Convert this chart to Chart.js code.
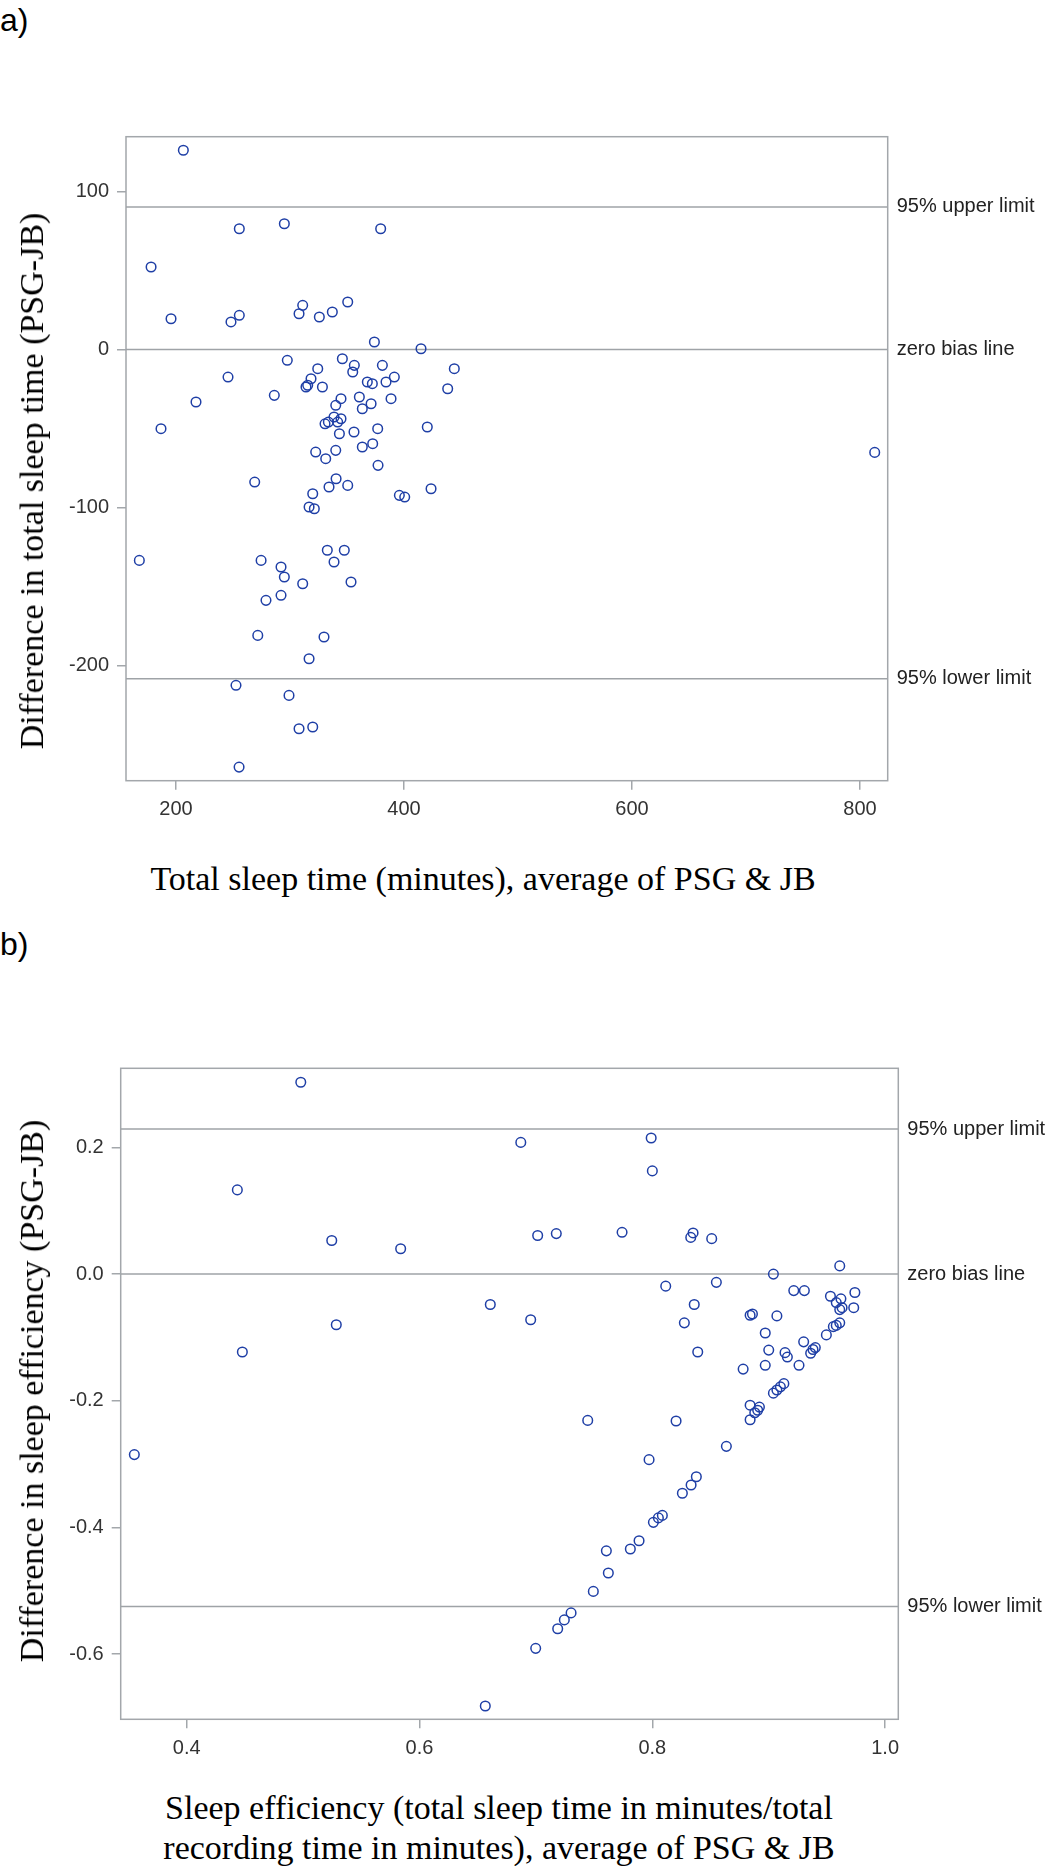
<!DOCTYPE html>
<html>
<head>
<meta charset="utf-8">
<script src="https://cdn.jsdelivr.net/npm/chart.js@4.4.1/dist/chart.umd.min.js"></script>
<style>
body { margin: 0; background: #fff; }
#page { position: relative; width: 1053px; height: 1866px; overflow: hidden; background: #fff; }
.panel { position: absolute; font-family: 'Liberation Sans', Arial, sans-serif; font-size: 32px; line-height: 1; color: #000; }
.title { position: absolute; font-family: 'Liberation Serif', 'Times New Roman', serif; font-size: 34px; line-height: 1; color: #000; white-space: nowrap; }
.ytitle { transform: translate(-50%, -50%) rotate(-90deg); }
.cbox { position: absolute; left: 0; width: 1053px; }
</style>
</head>
<body>
<div id="page">
  <div class="panel" style="left:0px; top:4px;">a)</div>
  <div class="cbox" style="top:100px; height:760px;"><canvas id="chartA" width="1053" height="760"></canvas></div>
  <div class="title ytitle" style="left:32px; top:481px;">Difference in total sleep time (PSG-JB)</div>
  <div class="title" style="left:483px; top:862px; transform:translateX(-50%);">Total sleep time (minutes), average of PSG &amp; JB</div>

  <div class="panel" style="left:0px; top:928px;">b)</div>
  <div class="cbox" style="top:1000px; height:780px;"><canvas id="chartB" width="1053" height="780"></canvas></div>
  <div class="title ytitle" style="left:32px; top:1391px;">Difference in sleep efficiency (PSG-JB)</div>
  <div class="title" style="left:499px; top:1788px; transform:translateX(-50%); line-height:39.5px; text-align:center;">Sleep efficiency (total sleep time in minutes/total<br>recording time in minutes), average of PSG &amp; JB</div>
</div>

<script>
// a) total sleep time: average of PSG & JB (x) vs difference PSG-JB (y)
var tstMean = [206.4, 255.5, 295.0, 379.5, 178.1, 195.6, 248.2, 255.5, 311.1, 307.9,
    325.7, 337.1, 350.6, 374.0, 414.9, 297.6, 345.9, 356.4, 355.0, 381.0,
    444.1, 324.3, 245.6, 318.4, 391.5, 367.8, 372.2, 384.2, 314.0, 315.5,
    328.4, 438.3, 286.2, 217.5, 344.7, 360.8, 388.6, 340.1, 371.1, 363.4,
    186.8, 420.4, 376.9, 330.7, 333.6, 338.6, 344.7, 341.8, 343.3, 356.1,
    322.5, 331.3, 340.1, 363.4, 372.5, 377.2, 269.0, 340.4, 334.2, 350.6,
    319.9, 316.7, 321.3, 395.9, 400.6, 423.7, 167.8, 274.6, 332.7, 347.6,
    338.6, 292.1, 295.0, 311.1, 353.5, 278.9, 292.1, 271.7, 329.8, 316.7,
    252.6, 299.1, 307.9, 319.9, 255.3, 812.9];
var tstDiff = [126.1, 76.4, 79.6, 76.4, 52.2, 19.4, 17.4, 21.6, 27.9, 22.6,
    20.5, 23.7, 30.0, 4.7, 0.4, -6.9, -5.9, -10.1, -14.3, -10.1,
    -12.2, -12.2, -17.5, -18.6, -17.5, -20.6, -21.7, -20.6, -23.8, -22.7,
    -23.8, -24.9, -29.1, -33.3, -31.2, -30.1, -31.2, -35.4, -34.4, -37.6,
    -50.2, -49.1, -50.2, -47.1, -46.0, -42.8, -43.9, -46.0, -53.4, -52.3,
    -65.0, -69.2, -63.9, -61.8, -59.7, -73.4, -84.0, -81.9, -87.1, -86.1,
    -91.4, -99.8, -100.9, -92.4, -93.5, -88.2, -133.6, -133.6, -127.2, -127.2,
    -134.6, -137.8, -144.1, -148.4, -147.3, -158.9, -155.7, -181.1, -182.1, -195.9,
    -212.7, -219.1, -240.2, -239.1, -264.5, -65.2];
var tstLimits = [-208.5, 0, 90.2];
var tstTicksX = [200, 400, 600, 800];
var tstTicksY = [-200, -100, 0, 100];

// b) sleep efficiency
var seMean = [0.498, 0.4435, 0.5246, 0.5838, 0.6608, 0.5285, 0.4478, 0.355,
    0.687, 0.799, 0.800, 0.7015, 0.7175, 0.774, 0.835, 0.833, 0.851, 0.961,
    0.904, 0.8115, 0.855, 0.6955, 0.836, 0.8275, 0.9215, 0.9306, 0.974, 0.953,
    0.962, 0.958, 0.961, 0.963, 0.973, 0.884, 0.886, 0.907, 0.9495, 0.9555,
    0.958, 0.961, 0.897, 0.930, 0.900, 0.914, 0.916, 0.936, 0.938, 0.940,
    0.839, 0.878, 0.897, 0.926, 0.904, 0.907, 0.910, 0.913, 0.884, 0.892,
    0.8905, 0.888, 0.7445, 0.8204, 0.884, 0.8636, 0.7972, 0.8378, 0.8333, 0.8258,
    0.8086, 0.8052, 0.8009, 0.7886, 0.7811, 0.7605, 0.7622, 0.7493, 0.7302, 0.7244,
    0.7187, 0.6998, 0.6565];
var seDiff = [0.303, 0.133, 0.053, 0.040, -0.048, -0.080, -0.123, -0.285,
    0.208, 0.215, 0.163, 0.061, 0.064, 0.066, 0.065, 0.058, 0.056, 0.013,
    0.000, -0.019, -0.013, -0.072, -0.048, -0.077, -0.026, -0.026, -0.029, -0.035,
    -0.039, -0.045, -0.056, -0.053, -0.053, -0.065, -0.063, -0.066, -0.096, -0.083,
    -0.081, -0.077, -0.093, -0.107, -0.120, -0.124, -0.131, -0.125, -0.119, -0.116,
    -0.123, -0.150, -0.144, -0.144, -0.188, -0.183, -0.178, -0.173, -0.207, -0.210,
    -0.215, -0.219, -0.231, -0.232, -0.230, -0.272, -0.293, -0.320, -0.333, -0.346,
    -0.381, -0.385, -0.392, -0.421, -0.434, -0.437, -0.472, -0.501, -0.535, -0.546,
    -0.560, -0.591, -0.682];
var seLimits = [-0.525, 0, 0.229];
var seTicksX = [0.4, 0.6, 0.8, 1.0];
var seTicksY = [-0.6, -0.4, -0.2, 0.0, 0.2];

var limitLabels = ['95% lower limit', 'zero bias line', '95% upper limit'];

var frameColor = '#a3a7ab';
var lineColor = '#9fa3a7';
var pointColor = '#1f3fa6';
var sans = "'Liberation Sans', Arial, sans-serif";

// draws the box round the plot area
var framePlugin = {
    id: 'frame',
    beforeDatasetsDraw(chart) {
        var a = chart.chartArea;
        var ctx = chart.ctx;
        ctx.save();
        ctx.strokeStyle = frameColor;
        ctx.lineWidth = 1.5;
        ctx.strokeRect(a.left, a.top, a.right - a.left, a.bottom - a.top);
        ctx.restore();
    }
};

function toPoints(xs, ys) {
    return xs.map((x, i) => ({ x: x, y: ys[i] }));
}

function makeChart(id, cfg) {
    var datasets = [{
        type: 'scatter',
        data: toPoints(cfg.xs, cfg.ys),
        pointStyle: 'circle',
        pointRadius: 4.8,
        pointBorderWidth: 1.5,
        borderColor: pointColor,
        backgroundColor: 'rgba(0,0,0,0)',
        order: 1
    }];
    cfg.limits.forEach(v => {
        datasets.push({
            type: 'line',
            data: [{ x: cfg.xMin, y: v }, { x: cfg.xMax, y: v }],
            borderColor: lineColor,
            borderWidth: 1.5,
            pointRadius: 0,
            order: 2
        });
    });

    var tickGrid = { drawOnChartArea: false, drawTicks: true, tickLength: 9, color: frameColor, lineWidth: 1.5 };
    var tickFont = { family: sans, size: 20 };

    return new Chart(document.getElementById(id), {
        type: 'scatter',
        data: { datasets: datasets },
        options: {
            responsive: false,
            animation: false,
            layout: { padding: { left: 0, right: 0, top: cfg.padTop, bottom: cfg.padBottom } },
            plugins: { legend: { display: false }, tooltip: { enabled: false } },
            scales: {
                x: {
                    type: 'linear', position: 'bottom', min: cfg.xMin, max: cfg.xMax,
                    afterBuildTicks: s => { s.ticks = cfg.ticksX.map(v => ({ value: v })); },
                    afterFit: s => { s.height = 50; },
                    grid: tickGrid,
                    border: { display: false },
                    ticks: { padding: 8, color: '#333', font: tickFont, autoSkip: false, maxRotation: 0, callback: cfg.fmt }
                },
                y: {
                    type: 'linear', position: 'left', min: cfg.yMin, max: cfg.yMax,
                    afterBuildTicks: s => { s.ticks = cfg.ticksY.map(v => ({ value: v })); },
                    afterFit: s => { s.width = cfg.leftW; },
                    grid: tickGrid,
                    border: { display: false },
                    ticks: { padding: 8, color: '#333', font: tickFont, autoSkip: false, callback: cfg.fmt }
                },
                yRef: {
                    type: 'linear', position: 'right', min: cfg.yMin, max: cfg.yMax,
                    afterBuildTicks: s => { s.ticks = cfg.limits.map(v => ({ value: v })); },
                    afterFit: s => { s.width = cfg.rightW; },
                    grid: { display: false, drawTicks: false, tickLength: 0 },
                    border: { display: false },
                    ticks: { padding: 9, color: '#222', font: tickFont, autoSkip: false, callback: (v, i) => limitLabels[i] }
                }
            }
        },
        plugins: [framePlugin]
    });
}

makeChart('chartA', {
    xs: tstMean, ys: tstDiff, limits: tstLimits,
    ticksX: tstTicksX, ticksY: tstTicksY,
    xMin: 156.1, xMax: 824.3, yMin: -273.1, yMax: 134.7,
    padTop: 36.7, padBottom: 29.3, leftW: 126, rightW: 165.3,
    fmt: v => String(v)
});

makeChart('chartB', {
    xs: seMean, ys: seDiff, limits: seLimits,
    ticksX: seTicksX, ticksY: seTicksY,
    xMin: 0.3433, xMax: 1.0113, yMin: -0.703, yMax: 0.325,
    padTop: 68.3, padBottom: 10.7, leftW: 120.7, rightW: 154.7,
    fmt: v => Number(v).toFixed(1)
});
</script>
</body>
</html>
